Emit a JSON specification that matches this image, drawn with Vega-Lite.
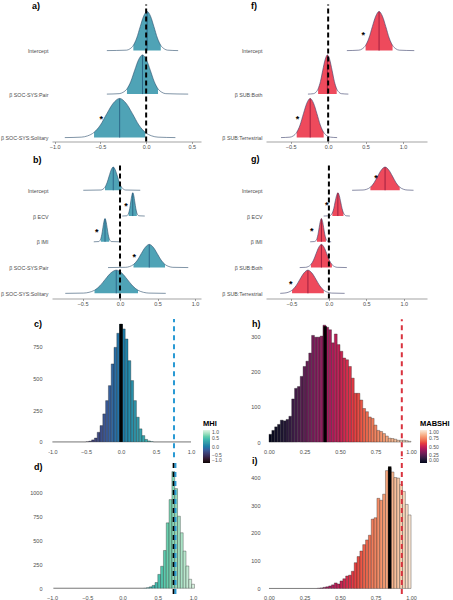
{
"$schema":"https://vega.github.io/schema/vega-lite/v6.json",
"autosize":{"type":"pad"},
"padding":{"left":0,"top":1.5,"right":0,"bottom":0},
"background":"white",
"config":{
 "view":{"stroke":null},
 "font":"Liberation Sans",
 "axis":{"grid":false,"labelFont":"Liberation Sans","labelFontSize":5.5,"labelColor":"#4d4d4d","title":null,"labelOverlap":false},
 "title":{"anchor":"start","frame":"group","fontSize":9,"fontWeight":"bold","baseline":"top","color":"black","font":"Liberation Sans"},
 "legend":{"labelFont":"Liberation Sans","titleFont":"Liberation Sans"}
},
"datasets":{
"rd":[
{"p":"a","x":-0.43,"y":2,"y0":2,"i":0},{"p":"a","x":-0.215,"y":2.01,"y0":2,"i":0},{"p":"a","x":-0.178,"y":2.04,"y0":2,"i":0},{"p":"a","x":-0.14,"y":2.12,"y0":2,"i":1},{"p":"a","x":-0.103,"y":2.29,"y0":2,"i":1},{"p":"a","x":-0.065,"y":2.55,"y0":2,"i":1},{"p":"a","x":-0.028,"y":2.79,"y0":2,"i":1},{"p":"a","x":0.01,"y":2.9,"y0":2,"i":1},{"p":"a","x":0.048,"y":2.79,"y0":2,"i":1},{"p":"a","x":0.085,"y":2.55,"y0":2,"i":1},{"p":"a","x":0.123,"y":2.29,"y0":2,"i":1},{"p":"a","x":0.16,"y":2.12,"y0":2,"i":1},{"p":"a","x":0.198,"y":2.04,"y0":2,"i":0},{"p":"a","x":0.235,"y":2.01,"y0":2,"i":0},{"p":"a","x":0.35,"y":2,"y0":2,"i":0},
{"p":"a","x":-0.43,"y":1,"y0":1,"i":0},{"p":"a","x":-0.295,"y":1.01,"y0":1,"i":0},{"p":"a","x":-0.253,"y":1.04,"y0":1,"i":0},{"p":"a","x":-0.21,"y":1.12,"y0":1,"i":1},{"p":"a","x":-0.168,"y":1.29,"y0":1,"i":1},{"p":"a","x":-0.125,"y":1.55,"y0":1,"i":1},{"p":"a","x":-0.083,"y":1.79,"y0":1,"i":1},{"p":"a","x":-0.04,"y":1.9,"y0":1,"i":1},{"p":"a","x":0.003,"y":1.79,"y0":1,"i":1},{"p":"a","x":0.045,"y":1.55,"y0":1,"i":1},{"p":"a","x":0.088,"y":1.29,"y0":1,"i":1},{"p":"a","x":0.13,"y":1.12,"y0":1,"i":1},{"p":"a","x":0.173,"y":1.04,"y0":1,"i":0},{"p":"a","x":0.215,"y":1.01,"y0":1,"i":0},{"p":"a","x":0.46,"y":1,"y0":1,"i":0},
{"p":"a","x":-0.89,"y":0,"y0":0,"i":0},{"p":"a","x":-0.71,"y":0.01,"y0":0,"i":0},{"p":"a","x":-0.64,"y":0.04,"y0":0,"i":0},{"p":"a","x":-0.57,"y":0.12,"y0":0,"i":1},{"p":"a","x":-0.5,"y":0.29,"y0":0,"i":1},{"p":"a","x":-0.43,"y":0.55,"y0":0,"i":1},{"p":"a","x":-0.36,"y":0.79,"y0":0,"i":1},{"p":"a","x":-0.29,"y":0.9,"y0":0,"i":1},{"p":"a","x":-0.22,"y":0.79,"y0":0,"i":1},{"p":"a","x":-0.15,"y":0.55,"y0":0,"i":1},{"p":"a","x":-0.08,"y":0.29,"y0":0,"i":1},{"p":"a","x":-0.01,"y":0.12,"y0":0,"i":1},{"p":"a","x":0.06,"y":0.04,"y0":0,"i":0},{"p":"a","x":0.13,"y":0.01,"y0":0,"i":0},{"p":"a","x":0.32,"y":0,"y0":0,"i":0},
{"p":"b","x":-0.49,"y":4,"y0":4,"i":0},{"p":"b","x":-0.255,"y":4.01,"y0":4,"i":0},{"p":"b","x":-0.228,"y":4.04,"y0":4,"i":0},{"p":"b","x":-0.2,"y":4.12,"y0":4,"i":1},{"p":"b","x":-0.173,"y":4.29,"y0":4,"i":1},{"p":"b","x":-0.145,"y":4.55,"y0":4,"i":1},{"p":"b","x":-0.118,"y":4.79,"y0":4,"i":1},{"p":"b","x":-0.09,"y":4.9,"y0":4,"i":1},{"p":"b","x":-0.063,"y":4.79,"y0":4,"i":1},{"p":"b","x":-0.035,"y":4.55,"y0":4,"i":1},{"p":"b","x":-0.008,"y":4.29,"y0":4,"i":1},{"p":"b","x":0.02,"y":4.12,"y0":4,"i":1},{"p":"b","x":0.048,"y":4.04,"y0":4,"i":0},{"p":"b","x":0.075,"y":4.01,"y0":4,"i":0},{"p":"b","x":0.27,"y":4,"y0":4,"i":0},
{"p":"b","x":0.03,"y":3,"y0":3,"i":0},{"p":"b","x":0.089,"y":3.01,"y0":3,"i":0},{"p":"b","x":0.103,"y":3.04,"y0":3,"i":0},{"p":"b","x":0.116,"y":3.12,"y0":3,"i":1},{"p":"b","x":0.13,"y":3.29,"y0":3,"i":1},{"p":"b","x":0.143,"y":3.55,"y0":3,"i":1},{"p":"b","x":0.157,"y":3.79,"y0":3,"i":1},{"p":"b","x":0.17,"y":3.9,"y0":3,"i":1},{"p":"b","x":0.184,"y":3.79,"y0":3,"i":1},{"p":"b","x":0.197,"y":3.55,"y0":3,"i":1},{"p":"b","x":0.211,"y":3.29,"y0":3,"i":1},{"p":"b","x":0.224,"y":3.12,"y0":3,"i":1},{"p":"b","x":0.238,"y":3.04,"y0":3,"i":0},{"p":"b","x":0.251,"y":3.01,"y0":3,"i":0},{"p":"b","x":0.33,"y":3,"y0":3,"i":0},
{"p":"b","x":-0.35,"y":2,"y0":2,"i":0},{"p":"b","x":-0.284,"y":2.01,"y0":2,"i":0},{"p":"b","x":-0.27,"y":2.04,"y0":2,"i":0},{"p":"b","x":-0.256,"y":2.12,"y0":2,"i":1},{"p":"b","x":-0.242,"y":2.29,"y0":2,"i":1},{"p":"b","x":-0.228,"y":2.55,"y0":2,"i":1},{"p":"b","x":-0.214,"y":2.79,"y0":2,"i":1},{"p":"b","x":-0.2,"y":2.9,"y0":2,"i":1},{"p":"b","x":-0.186,"y":2.79,"y0":2,"i":1},{"p":"b","x":-0.172,"y":2.55,"y0":2,"i":1},{"p":"b","x":-0.158,"y":2.29,"y0":2,"i":1},{"p":"b","x":-0.144,"y":2.12,"y0":2,"i":1},{"p":"b","x":-0.13,"y":2.04,"y0":2,"i":0},{"p":"b","x":-0.116,"y":2.01,"y0":2,"i":0},{"p":"b","x":0.0,"y":2,"y0":2,"i":0},
{"p":"b","x":-0.16,"y":1,"y0":1,"i":0},{"p":"b","x":0.075,"y":1.01,"y0":1,"i":0},{"p":"b","x":0.128,"y":1.04,"y0":1,"i":0},{"p":"b","x":0.18,"y":1.12,"y0":1,"i":1},{"p":"b","x":0.233,"y":1.29,"y0":1,"i":1},{"p":"b","x":0.285,"y":1.55,"y0":1,"i":1},{"p":"b","x":0.338,"y":1.79,"y0":1,"i":1},{"p":"b","x":0.39,"y":1.9,"y0":1,"i":1},{"p":"b","x":0.443,"y":1.79,"y0":1,"i":1},{"p":"b","x":0.495,"y":1.55,"y0":1,"i":1},{"p":"b","x":0.548,"y":1.29,"y0":1,"i":1},{"p":"b","x":0.6,"y":1.12,"y0":1,"i":1},{"p":"b","x":0.653,"y":1.04,"y0":1,"i":0},{"p":"b","x":0.705,"y":1.01,"y0":1,"i":0},{"p":"b","x":0.91,"y":1,"y0":1,"i":0},
{"p":"b","x":-0.73,"y":0,"y0":0,"i":0},{"p":"b","x":-0.485,"y":0.01,"y0":0,"i":0},{"p":"b","x":-0.413,"y":0.04,"y0":0,"i":0},{"p":"b","x":-0.34,"y":0.12,"y0":0,"i":1},{"p":"b","x":-0.268,"y":0.29,"y0":0,"i":1},{"p":"b","x":-0.195,"y":0.55,"y0":0,"i":1},{"p":"b","x":-0.123,"y":0.79,"y0":0,"i":1},{"p":"b","x":-0.05,"y":0.9,"y0":0,"i":1},{"p":"b","x":0.023,"y":0.79,"y0":0,"i":1},{"p":"b","x":0.095,"y":0.55,"y0":0,"i":1},{"p":"b","x":0.168,"y":0.29,"y0":0,"i":1},{"p":"b","x":0.24,"y":0.12,"y0":0,"i":1},{"p":"b","x":0.313,"y":0.04,"y0":0,"i":0},{"p":"b","x":0.385,"y":0.01,"y0":0,"i":0},{"p":"b","x":0.61,"y":0,"y0":0,"i":0},
{"p":"f","x":0.25,"y":2,"y0":2,"i":0},{"p":"f","x":0.41,"y":2.01,"y0":2,"i":0},{"p":"f","x":0.455,"y":2.04,"y0":2,"i":0},{"p":"f","x":0.5,"y":2.12,"y0":2,"i":1},{"p":"f","x":0.545,"y":2.29,"y0":2,"i":1},{"p":"f","x":0.59,"y":2.55,"y0":2,"i":1},{"p":"f","x":0.635,"y":2.79,"y0":2,"i":1},{"p":"f","x":0.68,"y":2.9,"y0":2,"i":1},{"p":"f","x":0.725,"y":2.79,"y0":2,"i":1},{"p":"f","x":0.77,"y":2.55,"y0":2,"i":1},{"p":"f","x":0.815,"y":2.29,"y0":2,"i":1},{"p":"f","x":0.86,"y":2.12,"y0":2,"i":1},{"p":"f","x":0.905,"y":2.04,"y0":2,"i":0},{"p":"f","x":0.95,"y":2.01,"y0":2,"i":0},{"p":"f","x":1.15,"y":2,"y0":2,"i":0},
{"p":"f","x":-0.27,"y":1,"y0":1,"i":0},{"p":"f","x":-0.196,"y":1.01,"y0":1,"i":0},{"p":"f","x":-0.165,"y":1.04,"y0":1,"i":0},{"p":"f","x":-0.134,"y":1.12,"y0":1,"i":1},{"p":"f","x":-0.103,"y":1.29,"y0":1,"i":1},{"p":"f","x":-0.072,"y":1.55,"y0":1,"i":1},{"p":"f","x":-0.041,"y":1.79,"y0":1,"i":1},{"p":"f","x":-0.01,"y":1.9,"y0":1,"i":1},{"p":"f","x":0.021,"y":1.79,"y0":1,"i":1},{"p":"f","x":0.052,"y":1.55,"y0":1,"i":1},{"p":"f","x":0.083,"y":1.29,"y0":1,"i":1},{"p":"f","x":0.114,"y":1.12,"y0":1,"i":1},{"p":"f","x":0.145,"y":1.04,"y0":1,"i":0},{"p":"f","x":0.176,"y":1.01,"y0":1,"i":0},{"p":"f","x":0.27,"y":1,"y0":1,"i":0},
{"p":"f","x":-0.63,"y":0,"y0":0,"i":0},{"p":"f","x":-0.51,"y":0.01,"y0":0,"i":0},{"p":"f","x":-0.465,"y":0.04,"y0":0,"i":0},{"p":"f","x":-0.42,"y":0.12,"y0":0,"i":1},{"p":"f","x":-0.375,"y":0.29,"y0":0,"i":1},{"p":"f","x":-0.33,"y":0.55,"y0":0,"i":1},{"p":"f","x":-0.285,"y":0.79,"y0":0,"i":1},{"p":"f","x":-0.24,"y":0.9,"y0":0,"i":1},{"p":"f","x":-0.195,"y":0.79,"y0":0,"i":1},{"p":"f","x":-0.15,"y":0.55,"y0":0,"i":1},{"p":"f","x":-0.105,"y":0.29,"y0":0,"i":1},{"p":"f","x":-0.06,"y":0.12,"y0":0,"i":1},{"p":"f","x":-0.015,"y":0.04,"y0":0,"i":0},{"p":"f","x":0.03,"y":0.01,"y0":0,"i":0},{"p":"f","x":0.12,"y":0,"y0":0,"i":0},
{"p":"g","x":0.31,"y":4,"y0":4,"i":0},{"p":"g","x":0.456,"y":4.01,"y0":4,"i":0},{"p":"g","x":0.505,"y":4.04,"y0":4,"i":0},{"p":"g","x":0.554,"y":4.12,"y0":4,"i":1},{"p":"g","x":0.603,"y":4.29,"y0":4,"i":1},{"p":"g","x":0.652,"y":4.55,"y0":4,"i":1},{"p":"g","x":0.701,"y":4.79,"y0":4,"i":1},{"p":"g","x":0.75,"y":4.9,"y0":4,"i":1},{"p":"g","x":0.799,"y":4.79,"y0":4,"i":1},{"p":"g","x":0.848,"y":4.55,"y0":4,"i":1},{"p":"g","x":0.897,"y":4.29,"y0":4,"i":1},{"p":"g","x":0.946,"y":4.12,"y0":4,"i":1},{"p":"g","x":0.995,"y":4.04,"y0":4,"i":0},{"p":"g","x":1.044,"y":4.01,"y0":4,"i":0},{"p":"g","x":1.13,"y":4,"y0":4,"i":0},
{"p":"g","x":-0.07,"y":3,"y0":3,"i":0},{"p":"g","x":0.009,"y":3.01,"y0":3,"i":0},{"p":"g","x":0.028,"y":3.04,"y0":3,"i":0},{"p":"g","x":0.046,"y":3.12,"y0":3,"i":1},{"p":"g","x":0.065,"y":3.29,"y0":3,"i":1},{"p":"g","x":0.083,"y":3.55,"y0":3,"i":1},{"p":"g","x":0.102,"y":3.79,"y0":3,"i":1},{"p":"g","x":0.12,"y":3.9,"y0":3,"i":1},{"p":"g","x":0.139,"y":3.79,"y0":3,"i":1},{"p":"g","x":0.157,"y":3.55,"y0":3,"i":1},{"p":"g","x":0.176,"y":3.29,"y0":3,"i":1},{"p":"g","x":0.194,"y":3.12,"y0":3,"i":1},{"p":"g","x":0.213,"y":3.04,"y0":3,"i":0},{"p":"g","x":0.231,"y":3.01,"y0":3,"i":0},{"p":"g","x":0.28,"y":3,"y0":3,"i":0},
{"p":"g","x":-0.25,"y":2,"y0":2,"i":0},{"p":"g","x":-0.19,"y":2.01,"y0":2,"i":0},{"p":"g","x":-0.175,"y":2.04,"y0":2,"i":0},{"p":"g","x":-0.16,"y":2.12,"y0":2,"i":1},{"p":"g","x":-0.145,"y":2.29,"y0":2,"i":1},{"p":"g","x":-0.13,"y":2.55,"y0":2,"i":1},{"p":"g","x":-0.115,"y":2.79,"y0":2,"i":1},{"p":"g","x":-0.1,"y":2.9,"y0":2,"i":1},{"p":"g","x":-0.085,"y":2.79,"y0":2,"i":1},{"p":"g","x":-0.07,"y":2.55,"y0":2,"i":1},{"p":"g","x":-0.055,"y":2.29,"y0":2,"i":1},{"p":"g","x":-0.04,"y":2.12,"y0":2,"i":1},{"p":"g","x":-0.025,"y":2.04,"y0":2,"i":0},{"p":"g","x":-0.01,"y":2.01,"y0":2,"i":0},{"p":"g","x":0.03,"y":2,"y0":2,"i":0},
{"p":"g","x":-0.39,"y":1,"y0":1,"i":0},{"p":"g","x":-0.31,"y":1.01,"y0":1,"i":0},{"p":"g","x":-0.275,"y":1.04,"y0":1,"i":0},{"p":"g","x":-0.24,"y":1.12,"y0":1,"i":1},{"p":"g","x":-0.205,"y":1.29,"y0":1,"i":1},{"p":"g","x":-0.17,"y":1.55,"y0":1,"i":1},{"p":"g","x":-0.135,"y":1.79,"y0":1,"i":1},{"p":"g","x":-0.1,"y":1.9,"y0":1,"i":1},{"p":"g","x":-0.065,"y":1.79,"y0":1,"i":1},{"p":"g","x":-0.03,"y":1.55,"y0":1,"i":1},{"p":"g","x":0.005,"y":1.29,"y0":1,"i":1},{"p":"g","x":0.04,"y":1.12,"y0":1,"i":1},{"p":"g","x":0.075,"y":1.04,"y0":1,"i":0},{"p":"g","x":0.11,"y":1.01,"y0":1,"i":0},{"p":"g","x":0.24,"y":1,"y0":1,"i":0},
{"p":"g","x":-0.65,"y":0,"y0":0,"i":0},{"p":"g","x":-0.598,"y":0.01,"y0":0,"i":0},{"p":"g","x":-0.545,"y":0.04,"y0":0,"i":0},{"p":"g","x":-0.492,"y":0.12,"y0":0,"i":1},{"p":"g","x":-0.439,"y":0.29,"y0":0,"i":1},{"p":"g","x":-0.386,"y":0.55,"y0":0,"i":1},{"p":"g","x":-0.333,"y":0.79,"y0":0,"i":1},{"p":"g","x":-0.28,"y":0.9,"y0":0,"i":1},{"p":"g","x":-0.227,"y":0.79,"y0":0,"i":1},{"p":"g","x":-0.174,"y":0.55,"y0":0,"i":1},{"p":"g","x":-0.121,"y":0.29,"y0":0,"i":1},{"p":"g","x":-0.068,"y":0.12,"y0":0,"i":1},{"p":"g","x":-0.015,"y":0.04,"y0":0,"i":0},{"p":"g","x":0.038,"y":0.01,"y0":0,"i":0},{"p":"g","x":0.21,"y":0,"y0":0,"i":0}
],
"md":[
{"p":"a","x":0.01,"y":2.9,"y0":2},{"p":"a","x":-0.04,"y":1.9,"y0":1},{"p":"a","x":-0.29,"y":0.9,"y0":0},
{"p":"b","x":-0.09,"y":4.9,"y0":4},{"p":"b","x":0.17,"y":3.9,"y0":3},{"p":"b","x":-0.2,"y":2.9,"y0":2},{"p":"b","x":0.39,"y":1.9,"y0":1},{"p":"b","x":-0.05,"y":0.9,"y0":0},
{"p":"f","x":0.68,"y":2.9,"y0":2},{"p":"f","x":-0.01,"y":1.9,"y0":1},{"p":"f","x":-0.24,"y":0.9,"y0":0},
{"p":"g","x":0.75,"y":4.9,"y0":4},{"p":"g","x":0.12,"y":3.9,"y0":3},{"p":"g","x":-0.1,"y":2.9,"y0":2},{"p":"g","x":-0.1,"y":1.9,"y0":1},{"p":"g","x":-0.28,"y":0.9,"y0":0}
],
"st":[
{"p":"a","x":-0.49,"y":0.48},{"p":"b","x":0.08,"y":3.47},{"p":"b","x":-0.31,"y":2.45},{"p":"b","x":0.19,"y":1.5},
{"p":"f","x":0.47,"y":2.4},{"p":"f","x":-0.41,"y":0.48},{"p":"g","x":0.63,"y":4.55},{"p":"g","x":-0.03,"y":3.5},{"p":"g","x":-0.23,"y":2.5},{"p":"g","x":-0.51,"y":0.43}
],
"vz":[
{"p":"a","x":0,"y":-0.09,"y0":3.06},{"p":"f","x":0,"y":-0.09,"y0":3.06},
{"p":"b","x":0,"y":-0.2,"y0":5.0},{"p":"g","x":0,"y":-0.2,"y0":5.0}
],
"vh":[
{"p":"c","k":"b","x":0.757,"n":-120,"n2":970},
{"p":"d","k":"k","x":0.725,"n":-60,"n2":1320},{"p":"d","k":"b","x":0.75,"n":-60,"n2":1320},
{"p":"h","k":"r","x":0.935,"n":-40,"n2":348},{"p":"i","k":"r","x":0.935,"n":-20,"n2":470}
],
"tp":[{"p":"c","x":0.0,"n":930},{"p":"h","x":0.395,"n":328},{"p":"i","x":0.85,"n":440}],
"hs":[
{"p":"c","x":-0.98,"x2":-0.5,"n":0},{"p":"c","x":-0.5,"x2":-0.46,"n":2},{"p":"c","x":-0.46,"x2":-0.42,"n":6},{"p":"c","x":-0.42,"x2":-0.38,"n":16},{"p":"c","x":-0.38,"x2":-0.34,"n":31},{"p":"c","x":-0.34,"x2":-0.3,"n":76},{"p":"c","x":-0.3,"x2":-0.26,"n":129},{"p":"c","x":-0.26,"x2":-0.22,"n":221},{"p":"c","x":-0.22,"x2":-0.18,"n":326},{"p":"c","x":-0.18,"x2":-0.14,"n":444},{"p":"c","x":-0.14,"x2":-0.1,"n":615},{"p":"c","x":-0.1,"x2":-0.06,"n":746},{"p":"c","x":-0.06,"x2":-0.02,"n":857},{"p":"c","x":-0.02,"x2":0.02,"n":930},{"p":"c","x":0.02,"x2":0.06,"n":891},{"p":"c","x":0.06,"x2":0.1,"n":812},{"p":"c","x":0.1,"x2":0.14,"n":641},{"p":"c","x":0.14,"x2":0.18,"n":484},{"p":"c","x":0.18,"x2":0.22,"n":326},{"p":"c","x":0.22,"x2":0.26,"n":195},{"p":"c","x":0.26,"x2":0.3,"n":103},{"p":"c","x":0.3,"x2":0.34,"n":50},{"p":"c","x":0.34,"x2":0.38,"n":20},{"p":"c","x":0.38,"x2":0.42,"n":8},{"p":"c","x":0.42,"x2":0.46,"n":3},{"p":"c","x":0.46,"x2":1.0,"n":0},
{"p":"d","x":-0.98,"x2":0.3,"n":0},{"p":"d","x":0.3,"x2":0.34,"n":2},{"p":"d","x":0.34,"x2":0.38,"n":6},{"p":"d","x":0.38,"x2":0.42,"n":15},{"p":"d","x":0.42,"x2":0.46,"n":30},{"p":"d","x":0.46,"x2":0.5,"n":60},{"p":"d","x":0.5,"x2":0.54,"n":145},{"p":"d","x":0.54,"x2":0.58,"n":230},{"p":"d","x":0.58,"x2":0.62,"n":395},{"p":"d","x":0.62,"x2":0.66,"n":684},{"p":"d","x":0.66,"x2":0.7,"n":927},{"p":"d","x":0.7,"x2":0.74,"n":1220},{"p":"d","x":0.74,"x2":0.78,"n":1042},{"p":"d","x":0.78,"x2":0.82,"n":753},{"p":"d","x":0.82,"x2":0.86,"n":580},{"p":"d","x":0.86,"x2":0.9,"n":389},{"p":"d","x":0.9,"x2":0.94,"n":233},{"p":"d","x":0.94,"x2":0.98,"n":94},{"p":"d","x":0.98,"x2":1.02,"n":42},
{"p":"h","x":0.0,"x2":0.02,"n":22},{"p":"h","x":0.02,"x2":0.04,"n":33},{"p":"h","x":0.04,"x2":0.06,"n":43},{"p":"h","x":0.06,"x2":0.08,"n":50},{"p":"h","x":0.08,"x2":0.1,"n":62},{"p":"h","x":0.1,"x2":0.12,"n":60},{"p":"h","x":0.12,"x2":0.14,"n":64},{"p":"h","x":0.14,"x2":0.16,"n":73},{"p":"h","x":0.16,"x2":0.18,"n":122},{"p":"h","x":0.18,"x2":0.2,"n":152},{"p":"h","x":0.2,"x2":0.22,"n":157},{"p":"h","x":0.22,"x2":0.24,"n":186},{"p":"h","x":0.24,"x2":0.26,"n":214},{"p":"h","x":0.26,"x2":0.28,"n":229},{"p":"h","x":0.28,"x2":0.3,"n":252},{"p":"h","x":0.3,"x2":0.32,"n":302},{"p":"h","x":0.32,"x2":0.34,"n":297},{"p":"h","x":0.34,"x2":0.36,"n":297},{"p":"h","x":0.36,"x2":0.38,"n":300},{"p":"h","x":0.38,"x2":0.4,"n":331},{"p":"h","x":0.4,"x2":0.42,"n":325},{"p":"h","x":0.42,"x2":0.44,"n":318},{"p":"h","x":0.44,"x2":0.46,"n":281},{"p":"h","x":0.46,"x2":0.48,"n":306},{"p":"h","x":0.48,"x2":0.5,"n":276},{"p":"h","x":0.5,"x2":0.52,"n":257},{"p":"h","x":0.52,"x2":0.54,"n":238},{"p":"h","x":0.54,"x2":0.56,"n":233},{"p":"h","x":0.56,"x2":0.58,"n":214},{"p":"h","x":0.58,"x2":0.6,"n":181},{"p":"h","x":0.6,"x2":0.62,"n":138},{"p":"h","x":0.62,"x2":0.64,"n":138},{"p":"h","x":0.64,"x2":0.66,"n":119},{"p":"h","x":0.66,"x2":0.68,"n":95},{"p":"h","x":0.68,"x2":0.7,"n":86},{"p":"h","x":0.7,"x2":0.72,"n":71},{"p":"h","x":0.72,"x2":0.74,"n":67},{"p":"h","x":0.74,"x2":0.76,"n":48},{"p":"h","x":0.76,"x2":0.78,"n":33},{"p":"h","x":0.78,"x2":0.8,"n":30},{"p":"h","x":0.8,"x2":0.82,"n":24},{"p":"h","x":0.82,"x2":0.84,"n":17},{"p":"h","x":0.84,"x2":0.86,"n":11},{"p":"h","x":0.86,"x2":0.88,"n":10},{"p":"h","x":0.88,"x2":0.9,"n":8},{"p":"h","x":0.9,"x2":0.92,"n":5},{"p":"h","x":0.92,"x2":0.94,"n":5},{"p":"h","x":0.94,"x2":0.96,"n":5},{"p":"h","x":0.96,"x2":0.98,"n":4},{"p":"h","x":0.98,"x2":1.0,"n":2},
{"p":"i","x":0.0,"x2":0.34,"n":0},{"p":"i","x":0.34,"x2":0.36,"n":1},{"p":"i","x":0.36,"x2":0.38,"n":2},{"p":"i","x":0.38,"x2":0.4,"n":4},{"p":"i","x":0.4,"x2":0.42,"n":6},{"p":"i","x":0.42,"x2":0.44,"n":9},{"p":"i","x":0.44,"x2":0.46,"n":13},{"p":"i","x":0.46,"x2":0.48,"n":20},{"p":"i","x":0.48,"x2":0.5,"n":16},{"p":"i","x":0.5,"x2":0.52,"n":27},{"p":"i","x":0.52,"x2":0.54,"n":35},{"p":"i","x":0.54,"x2":0.56,"n":45},{"p":"i","x":0.56,"x2":0.58,"n":48},{"p":"i","x":0.58,"x2":0.6,"n":62},{"p":"i","x":0.6,"x2":0.62,"n":93},{"p":"i","x":0.62,"x2":0.64,"n":115},{"p":"i","x":0.64,"x2":0.66,"n":135},{"p":"i","x":0.66,"x2":0.68,"n":158},{"p":"i","x":0.68,"x2":0.7,"n":175},{"p":"i","x":0.7,"x2":0.72,"n":192},{"p":"i","x":0.72,"x2":0.74,"n":250},{"p":"i","x":0.74,"x2":0.76,"n":255},{"p":"i","x":0.76,"x2":0.78,"n":325},{"p":"i","x":0.78,"x2":0.8,"n":318},{"p":"i","x":0.8,"x2":0.82,"n":340},{"p":"i","x":0.82,"x2":0.84,"n":425},{"p":"i","x":0.84,"x2":0.86,"n":435},{"p":"i","x":0.86,"x2":0.88,"n":420},{"p":"i","x":0.88,"x2":0.9,"n":400},{"p":"i","x":0.9,"x2":0.92,"n":398},{"p":"i","x":0.92,"x2":0.94,"n":375},{"p":"i","x":0.94,"x2":0.96,"n":350},{"p":"i","x":0.96,"x2":0.98,"n":303},{"p":"i","x":0.98,"x2":1.0,"n":265}
]
},
"concat":[
{"width":149,"height":137,"title":{"text":"a)","dx":-20,"offset":-7.5},
 "encoding":{
  "x":{"field":"x","type":"quantitative","scale":{"domain":[-1.03,0.6],"nice":false,"zero":false},"axis":{"values":[-1,-0.5,0,0.5],"format":".1f","domain":true,"domainColor":"#666","domainWidth":0.6,"ticks":true,"tickSize":2,"tickColor":"#666","tickWidth":0.6,"labelPadding":0.5,"labelFlush":false,"labelOverlap":false}},
  "y":{"field":"y","type":"quantitative","stack":null,"scale":{"domain":[-0.09,3.06],"nice":false,"zero":false},"axis":{"values":[0,1,2],"labelExpr":"['β SOC-SYS:Solitary','β SOC-SYS:Pair','Intercept'][datum.value]","domain":false,"ticks":false,"tickSize":0,"labelPadding":4,"labelFontSize":5.3,"labelOverlap":false}}},
 "layer":[
  {"data":{"name":"rd"},"transform":[{"filter":"datum.p=='a'"}],"mark":{"type":"area","interpolate":"monotone","fill":"white"},"encoding":{"y2":{"field":"y0"},"detail":{"field":"y0"}}},
  {"data":{"name":"rd"},"transform":[{"filter":"datum.p=='a' && datum.i==1"}],"mark":{"type":"area","interpolate":"monotone","fill":"#4FA3B6"},"encoding":{"y2":{"field":"y0"},"detail":{"field":"y0"}}},
  {"data":{"name":"rd"},"transform":[{"filter":"datum.p=='a'"}],"mark":{"type":"line","interpolate":"monotone","stroke":"#2B4E6B","strokeWidth":0.6},"encoding":{"detail":{"field":"y0"}}},
  {"data":{"name":"md"},"transform":[{"filter":"datum.p=='a'"}],"mark":{"type":"rule","stroke":"#25597F","strokeWidth":0.8},"encoding":{"y2":{"field":"y0"}}},
  {"data":{"name":"st"},"transform":[{"filter":"datum.p=='a'"}],"mark":{"type":"text","text":"*","fontSize":9,"fontWeight":"bold","baseline":"middle","dy":2,"color":"black"},"encoding":{}},
  {"data":{"name":"vz"},"transform":[{"filter":"datum.p=='a'"}],"mark":{"type":"rule","stroke":"black","strokeWidth":2,"strokeDash":[5,3]},"encoding":{"y2":{"field":"y0"}}}
 ]},
{"width":161,"height":137,"title":{"text":"f)","dx":-15,"offset":-7.5},
 "encoding":{
  "x":{"field":"x","type":"quantitative","scale":{"domain":[-0.83,1.32],"nice":false,"zero":false},"axis":{"values":[-0.5,0,0.5,1],"format":".1f","domain":true,"domainColor":"#666","domainWidth":0.6,"ticks":true,"tickSize":2,"tickColor":"#666","tickWidth":0.6,"labelPadding":0.5,"labelFlush":false,"labelOverlap":false}},
  "y":{"field":"y","type":"quantitative","stack":null,"scale":{"domain":[-0.09,3.06],"nice":false,"zero":false},"axis":{"values":[0,1,2],"labelExpr":"['β SUB:Terrestrial','β SUB:Both','Intercept'][datum.value]","domain":false,"ticks":false,"tickSize":0,"labelPadding":4,"labelFontSize":5.3,"labelOverlap":false}}},
 "layer":[
  {"data":{"name":"rd"},"transform":[{"filter":"datum.p=='f'"}],"mark":{"type":"area","interpolate":"monotone","fill":"white"},"encoding":{"y2":{"field":"y0"},"detail":{"field":"y0"}}},
  {"data":{"name":"rd"},"transform":[{"filter":"datum.p=='f' && datum.i==1"}],"mark":{"type":"area","interpolate":"monotone","fill":"#EE4A5C"},"encoding":{"y2":{"field":"y0"},"detail":{"field":"y0"}}},
  {"data":{"name":"rd"},"transform":[{"filter":"datum.p=='f'"}],"mark":{"type":"line","interpolate":"monotone","stroke":"#3B3F69","strokeWidth":0.6},"encoding":{"detail":{"field":"y0"}}},
  {"data":{"name":"md"},"transform":[{"filter":"datum.p=='f'"}],"mark":{"type":"rule","stroke":"#8A1538","strokeWidth":0.8},"encoding":{"y2":{"field":"y0"}}},
  {"data":{"name":"st"},"transform":[{"filter":"datum.p=='f'"}],"mark":{"type":"text","text":"*","fontSize":9,"fontWeight":"bold","baseline":"middle","dy":2,"color":"black"},"encoding":{}},
  {"data":{"name":"vz"},"transform":[{"filter":"datum.p=='f'"}],"mark":{"type":"rule","stroke":"black","strokeWidth":2,"strokeDash":[5,3]},"encoding":{"y2":{"field":"y0"}}}
 ]},
{"width":149,"height":142.5,"title":{"text":"b)","dx":-19,"offset":-9},
 "encoding":{
  "x":{"field":"x","type":"quantitative","scale":{"domain":[-0.907,1.08],"nice":false,"zero":false},"axis":{"values":[-0.5,0,0.5,1],"format":".1f","domain":true,"domainColor":"#666","domainWidth":0.6,"ticks":true,"tickSize":2,"tickColor":"#666","tickWidth":0.6,"labelPadding":0.5,"labelFlush":false,"labelOverlap":false}},
  "y":{"field":"y","type":"quantitative","stack":null,"scale":{"domain":[-0.2,5.33],"nice":false,"zero":false},"axis":{"values":[0,1,2,3,4],"labelExpr":"['β SOC-SYS:Solitary','β SOC-SYS:Pair','β IMI','β ECV','Intercept'][datum.value]","domain":false,"ticks":false,"tickSize":0,"labelPadding":4,"labelFontSize":5.3,"labelOverlap":false}}},
 "layer":[
  {"data":{"name":"rd"},"transform":[{"filter":"datum.p=='b'"}],"mark":{"type":"area","interpolate":"monotone","fill":"white"},"encoding":{"y2":{"field":"y0"},"detail":{"field":"y0"}}},
  {"data":{"name":"rd"},"transform":[{"filter":"datum.p=='b' && datum.i==1"}],"mark":{"type":"area","interpolate":"monotone","fill":"#4FA3B6"},"encoding":{"y2":{"field":"y0"},"detail":{"field":"y0"}}},
  {"data":{"name":"rd"},"transform":[{"filter":"datum.p=='b'"}],"mark":{"type":"line","interpolate":"monotone","stroke":"#2B4E6B","strokeWidth":0.6},"encoding":{"detail":{"field":"y0"}}},
  {"data":{"name":"md"},"transform":[{"filter":"datum.p=='b'"}],"mark":{"type":"rule","stroke":"#25597F","strokeWidth":0.8},"encoding":{"y2":{"field":"y0"}}},
  {"data":{"name":"st"},"transform":[{"filter":"datum.p=='b'"}],"mark":{"type":"text","text":"*","fontSize":9,"fontWeight":"bold","baseline":"middle","dy":2,"color":"black"},"encoding":{}},
  {"data":{"name":"vz"},"transform":[{"filter":"datum.p=='b'"}],"mark":{"type":"rule","stroke":"black","strokeWidth":2,"strokeDash":[5,3]},"encoding":{"y2":{"field":"y0"}}}
 ]},
{"width":161,"height":142.5,"title":{"text":"g)","dx":-15,"offset":-8},
 "encoding":{
  "x":{"field":"x","type":"quantitative","scale":{"domain":[-0.84,1.31],"nice":false,"zero":false},"axis":{"values":[-0.5,0,0.5,1],"format":".1f","domain":true,"domainColor":"#666","domainWidth":0.6,"ticks":true,"tickSize":2,"tickColor":"#666","tickWidth":0.6,"labelPadding":0.5,"labelFlush":false,"labelOverlap":false}},
  "y":{"field":"y","type":"quantitative","stack":null,"scale":{"domain":[-0.2,5.33],"nice":false,"zero":false},"axis":{"values":[0,1,2,3,4],"labelExpr":"['β SUB:Terrestrial','β SUB:Both','β IMI','β ECV','Intercept'][datum.value]","domain":false,"ticks":false,"tickSize":0,"labelPadding":4,"labelFontSize":5.3,"labelOverlap":false}}},
 "layer":[
  {"data":{"name":"rd"},"transform":[{"filter":"datum.p=='g'"}],"mark":{"type":"area","interpolate":"monotone","fill":"white"},"encoding":{"y2":{"field":"y0"},"detail":{"field":"y0"}}},
  {"data":{"name":"rd"},"transform":[{"filter":"datum.p=='g' && datum.i==1"}],"mark":{"type":"area","interpolate":"monotone","fill":"#EE4A5C"},"encoding":{"y2":{"field":"y0"},"detail":{"field":"y0"}}},
  {"data":{"name":"rd"},"transform":[{"filter":"datum.p=='g'"}],"mark":{"type":"line","interpolate":"monotone","stroke":"#3B3F69","strokeWidth":0.6},"encoding":{"detail":{"field":"y0"}}},
  {"data":{"name":"md"},"transform":[{"filter":"datum.p=='g'"}],"mark":{"type":"rule","stroke":"#8A1538","strokeWidth":0.8},"encoding":{"y2":{"field":"y0"}}},
  {"data":{"name":"st"},"transform":[{"filter":"datum.p=='g'"}],"mark":{"type":"text","text":"*","fontSize":9,"fontWeight":"bold","baseline":"middle","dy":2,"color":"black"},"encoding":{}},
  {"data":{"name":"vz"},"transform":[{"filter":"datum.p=='g'"}],"mark":{"type":"rule","stroke":"black","strokeWidth":2,"strokeDash":[5,3]},"encoding":{"y2":{"field":"y0"}}}
 ]},
{"width":146,"height":133.5,"title":{"text":"c)","dx":-18,"offset":-15},
 "encoding":{
  "x":{"field":"x","type":"quantitative","scale":{"domain":[-0.986,1.1],"nice":false,"zero":false},"axis":{"values":[-0.98,-0.5,0,0.5,1],"labelExpr":"datum.value < -0.9 ? '-1.0' : format(datum.value, '.1f')","domain":false,"ticks":false,"tickSize":0,"labelPadding":2,"labelFlush":false,"labelOverlap":false}},
  "y":{"field":"n","type":"quantitative","stack":null,"scale":{"domain":[-40,1013],"nice":false,"zero":false},"axis":{"values":[0,250,500,750],"format":"d","domain":false,"ticks":false,"tickSize":0,"labelPadding":2,"offset":8,"labelOverlap":false}}},
 "layer":[
  {"data":{"name":"hs"},"transform":[{"filter":"datum.p=='c'"}],"mark":{"type":"bar","stroke":"#222","strokeWidth":0.35},"encoding":{
    "x2":{"field":"x2"},"y2":{"datum":0},
    "fill":{"field":"x","type":"quantitative","scale":{"domain":[-1,1],"range":["#0B0405","#382A54","#395D9C","#3497A9","#60CEAC","#DEF5E5"]},"legend":{"title":"MHI","orient":"none","legendX":151,"legendY":106,"direction":"vertical","gradientLength":33,"gradientThickness":7,"values":[-1,-0.5,0,0.5,1],"format":".1f","labelFontSize":5,"labelColor":"#4d4d4d","titleFontSize":7.5,"titleFontWeight":"bold","titleColor":"black","titlePadding":3,"labelOffset":2,"gradientStrokeWidth":0}}}},
  {"data":{"name":"tp"},"transform":[{"filter":"datum.p=='c'"}],"mark":{"type":"rule","stroke":"black","strokeWidth":3.3},"encoding":{"y2":{"datum":0}}},
  {"data":{"name":"vh"},"transform":[{"filter":"datum.p=='c'"}],"mark":{"type":"rule","stroke":"#2A9AD4","strokeWidth":2,"strokeDash":[5,4]},"encoding":{"y2":{"field":"n2"}}}
 ]},
{"width":152,"height":133.5,"title":{"text":"h)","dx":-14,"offset":-15},
 "encoding":{
  "x":{"field":"x","type":"quantitative","scale":{"domain":[-0.021,1.049],"nice":false,"zero":false},"axis":{"values":[0,0.25,0.5,0.75,1],"format":".2f","domain":false,"ticks":false,"tickSize":0,"labelPadding":2,"labelFlush":false,"labelOverlap":false}},
  "y":{"field":"n","type":"quantitative","stack":null,"scale":{"domain":[-14,364],"nice":false,"zero":false},"axis":{"values":[0,100,200,300],"format":"d","domain":false,"ticks":false,"tickSize":0,"labelPadding":2,"offset":4,"labelOverlap":false}}},
 "layer":[
  {"data":{"name":"hs"},"transform":[{"filter":"datum.p=='h'"}],"mark":{"type":"bar","stroke":"#222","strokeWidth":0.35},"encoding":{
    "x2":{"field":"x2"},"y2":{"datum":0},
    "fill":{"field":"x","type":"quantitative","scale":{"domain":[0,1],"range":["#03051A","#4C1D4B","#A11A5B","#E83F3F","#F69C73","#FAEBDD"]},"legend":{"title":"MABSHI","orient":"none","legendX":154,"legendY":106,"direction":"vertical","gradientLength":33,"gradientThickness":7,"values":[0,0.25,0.5,0.75,1],"format":".2f","labelFontSize":5,"labelColor":"#4d4d4d","titleFontSize":7.5,"titleFontWeight":"bold","titleColor":"black","titlePadding":3,"labelOffset":2,"gradientStrokeWidth":0}}}},
  {"data":{"name":"tp"},"transform":[{"filter":"datum.p=='h'"}],"mark":{"type":"rule","stroke":"black","strokeWidth":3.3},"encoding":{"y2":{"datum":0}}},
  {"data":{"name":"vh"},"transform":[{"filter":"datum.p=='h'"}],"mark":{"type":"rule","stroke":"#D9333F","strokeWidth":2,"strokeDash":[5,4]},"encoding":{"y2":{"field":"n2"}}}
 ]},
{"width":146,"height":132,"title":{"text":"d)","dx":-18,"offset":-11},
 "encoding":{
  "x":{"field":"x","type":"quantitative","scale":{"domain":[-1.0,1.07],"nice":false,"zero":false},"axis":{"values":[-1,-0.5,0,0.5,1],"format":".1f","domain":false,"ticks":false,"tickSize":0,"labelPadding":1,"labelFlush":false,"labelOverlap":false}},
  "y":{"field":"n","type":"quantitative","stack":null,"scale":{"domain":[-60,1320],"nice":false,"zero":false},"axis":{"values":[0,250,500,750,1000],"format":"d","domain":false,"ticks":false,"tickSize":0,"labelPadding":2,"offset":8,"labelOverlap":false}}},
 "layer":[
  {"data":{"name":"hs"},"transform":[{"filter":"datum.p=='d'"}],"mark":{"type":"bar","stroke":"#222","strokeWidth":0.35},"encoding":{
    "x2":{"field":"x2"},"y2":{"datum":0},
    "fill":{"field":"x","type":"quantitative","scale":{"domain":[-1,1],"range":["#0B0405","#382A54","#395D9C","#3497A9","#60CEAC","#DEF5E5"]},"legend":null}}},
  {"data":{"name":"vh"},"transform":[{"filter":"datum.p=='d' && datum.k=='k'"}],"mark":{"type":"rule","stroke":"black","strokeWidth":2,"strokeDash":[5,4]},"encoding":{"y2":{"field":"n2"}}},
  {"data":{"name":"vh"},"transform":[{"filter":"datum.p=='d' && datum.k=='b'"}],"mark":{"type":"rule","stroke":"#2A9AD4","strokeWidth":2,"strokeDash":[5,4]},"encoding":{"y2":{"field":"n2"}}}
 ]},
{"width":152,"height":132,"title":{"text":"i)","dx":-14,"offset":-9},
 "encoding":{
  "x":{"field":"x","type":"quantitative","scale":{"domain":[-0.021,1.049],"nice":false,"zero":false},"axis":{"values":[0,0.25,0.5,0.75,1],"format":".2f","domain":false,"ticks":false,"tickSize":0,"labelPadding":1,"labelFlush":false,"labelOverlap":false}},
  "y":{"field":"n","type":"quantitative","stack":null,"scale":{"domain":[-20,456],"nice":false,"zero":false},"axis":{"values":[0,100,200,300,400],"format":"d","domain":false,"ticks":false,"tickSize":0,"labelPadding":2,"offset":4,"labelOverlap":false}}},
 "layer":[
  {"data":{"name":"hs"},"transform":[{"filter":"datum.p=='i'"}],"mark":{"type":"bar","stroke":"#222","strokeWidth":0.35},"encoding":{
    "x2":{"field":"x2"},"y2":{"datum":0},
    "fill":{"field":"x","type":"quantitative","scale":{"domain":[0,1],"range":["#03051A","#4C1D4B","#A11A5B","#E83F3F","#F69C73","#FAEBDD"]},"legend":null}}},
  {"data":{"name":"tp"},"transform":[{"filter":"datum.p=='i'"}],"mark":{"type":"rule","stroke":"black","strokeWidth":3.3},"encoding":{"y2":{"datum":0}}},
  {"data":{"name":"vh"},"transform":[{"filter":"datum.p=='i'"}],"mark":{"type":"rule","stroke":"#D9333F","strokeWidth":2,"strokeDash":[5,4]},"encoding":{"y2":{"field":"n2"}}}
 ]}
],
"columns":2,
"bounds":"flush",
"spacing":{"row":14.5,"column":65},
"resolve":{"scale":{"x":"independent","y":"independent","fill":"independent"}}
}
